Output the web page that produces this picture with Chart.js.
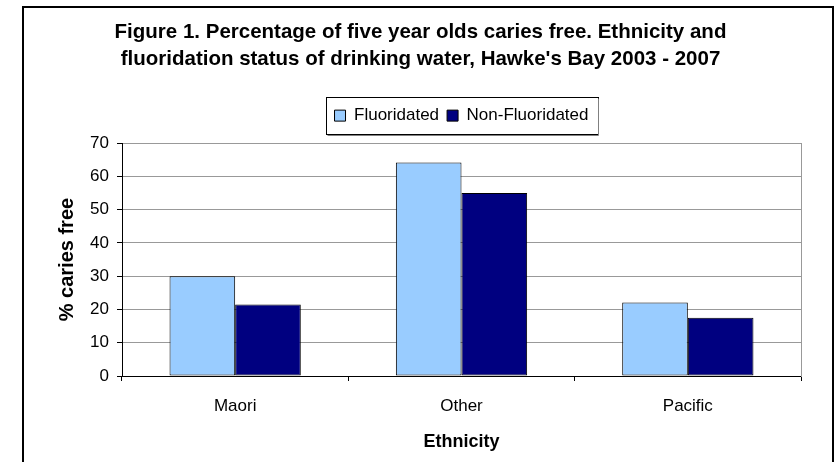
<!DOCTYPE html>
<html>
<head>
<meta charset="utf-8">
<title>Figure 1</title>
<script src="https://cdn.jsdelivr.net/npm/chart.js@4.4.0/dist/chart.umd.min.js"></script>
<style>
  body { margin: 0; background: #fff; }
  #wrap { width: 834px; height: 462px; }
</style>
</head>
<body>
<div id="wrap"><canvas id="caries" width="834" height="462"></canvas></div>
<script>
var etnias = ["Maori", "Other", "Pacific"];
var fluoridated = [30.0, 64.2, 22.1];
var nonFluoridated = [21.5, 55.0, 17.5];
var yTicks = [0, 10, 20, 30, 40, 50, 60, 70];

var fuente = "'Liberation Sans', Arial, sans-serif";

/* marco exterior y caja de leyenda */
var marcoPlugin = {
    id: 'marco',
    afterDraw: function(chart) {
        var ctx = chart.ctx;
        ctx.save();
        ctx.strokeStyle = '#000';
        ctx.lineWidth = 2;
        ctx.strokeRect(23, 7, 810, 500);
        var boxes = chart.legend.legendHitBoxes;
        if (boxes && boxes.length) {
            var first = boxes[0], last = boxes[boxes.length - 1];
            var x0 = first.left - 9, x1 = last.left + last.width + 9;
            var y0 = first.top - 10, y1 = first.top + first.height + 10;
            ctx.lineWidth = 1;
            ctx.strokeStyle = '#000';
            ctx.strokeRect(Math.round(x0) + 0.5, Math.round(y0) + 0.5, Math.round(x1 - x0), Math.round(y1 - y0));
            ctx.strokeStyle = '#808080';
            ctx.beginPath();
            ctx.moveTo(Math.round(x0) + 1.5, Math.round(y1) + 1.5);
            ctx.lineTo(Math.round(x1) + 1.5, Math.round(y1) + 1.5);
            ctx.lineTo(Math.round(x1) + 1.5, Math.round(y0) + 1.5);
            ctx.stroke();
        }
        ctx.restore();
    }
};

var ctxCaries = document.getElementById("caries");

var dataCaries = {
    labels: etnias,
    datasets: [{
        label: 'Fluoridated',
        data: fluoridated,
        backgroundColor: '#99CCFF',
        borderColor: '#000',
        borderWidth: 1,
        borderSkipped: false
    }, {
        label: 'Non-Fluoridated',
        data: nonFluoridated,
        backgroundColor: '#000080',
        borderColor: '#000',
        borderWidth: 1,
        borderSkipped: false
    }]
};

var optionsCaries = {
    responsive: false,
    animation: false,
    devicePixelRatio: 1,
    layout: { padding: { left: 40, right: 33, top: 0, bottom: 0 } },
    datasets: { bar: { categoryPercentage: 0.58, barPercentage: 1.0 } },
    plugins: {
        title: {
            display: true,
            text: ["Figure 1. Percentage of five year olds caries free. Ethnicity and",
                   "fluoridation status of drinking water, Hawke's Bay 2003 - 2007"],
            color: '#000',
            font: { family: fuente, size: 20.5, weight: 'bold', lineHeight: 1.32 },
            padding: { top: 19, bottom: 26 }
        },
        subtitle: {
            display: true,
            text: '',
            weight: 500,
            font: { size: 1, lineHeight: 1 },
            padding: { top: 8, bottom: 0 }
        },
        legend: {
            position: 'top',
            fullSize: false,
            labels: {
                color: '#000',
                font: { family: fuente, size: 17 },
                boxWidth: 11,
                boxHeight: 11,
                padding: 8
            }
        },
        tooltip: { enabled: false }
    },
    scales: {
        x: {
            grid: {
                offset: true,
                drawOnChartArea: false,
                tickColor: '#000',
                tickLength: 5
            },
            border: { color: '#000', width: 1 },
            ticks: { color: '#000', font: { family: fuente, size: 17 }, padding: 15 },
            title: {
                display: true,
                text: 'Ethnicity',
                color: '#000',
                font: { family: fuente, size: 18, weight: 'bold', lineHeight: 1.2 },
                padding: { top: 0, bottom: 9 }
            },
            afterFit: function(scale) { scale.height = 86; }
        },
        y: {
            min: 0,
            max: 70,
            afterBuildTicks: function(scale) {
                scale.ticks = yTicks.map(function(v) { return { value: v }; });
            },
            grid: {
                color: '#999999',
                tickColor: '#000',
                tickLength: 5
            },
            border: { color: '#000', width: 1 },
            ticks: { color: '#000', font: { family: fuente, size: 17 }, padding: 8 },
            title: {
                display: true,
                text: '% caries free',
                color: '#000',
                font: { family: fuente, size: 20, weight: 'bold', lineHeight: 1.2 },
                padding: { top: 15, bottom: 0 }
            },
            afterFit: function(scale) { scale.width = 82; }
        },
        yRight: {
            position: 'right',
            display: true,
            grid: { drawOnChartArea: false, drawTicks: false },
            border: { color: '#999999', width: 1 },
            ticks: { display: false },
            afterFit: function(scale) { scale.width = 0; }
        }
    }
};

var caries = new Chart(ctxCaries, {
    type: 'bar',
    data: dataCaries,
    options: optionsCaries,
    plugins: [marcoPlugin]
});
</script>
</body>
</html>
